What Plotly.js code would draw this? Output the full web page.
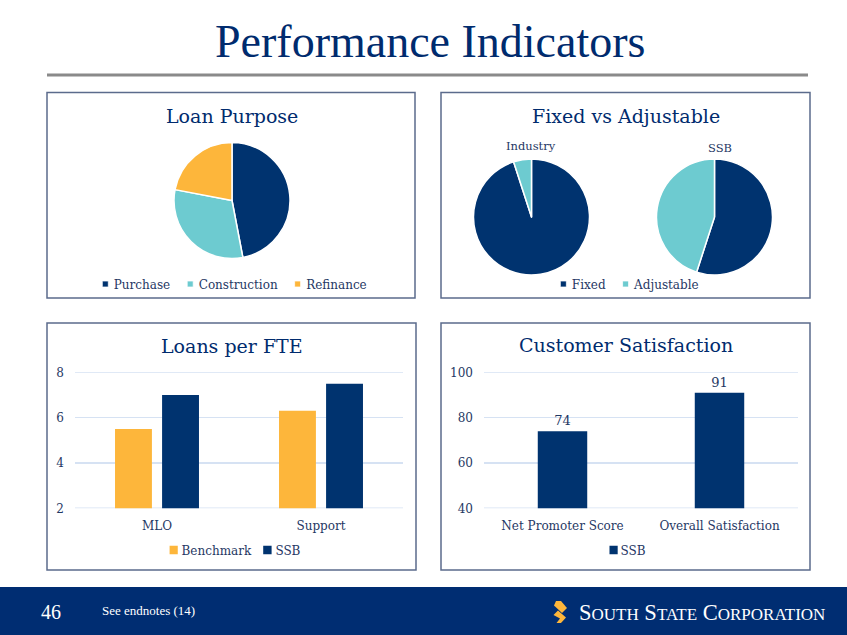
<!DOCTYPE html>
<html>
<head>
<meta charset="utf-8">
<script src="https://cdn.plot.ly/plotly-3.0.1.min.js"></script>
<style>html,body{margin:0;padding:0;background:#fff;}#chart{width:847px;height:635px;}</style>
</head>
<body>
<div id="chart"></div>
<script>
// ---- data ----
const loanLabels = ['Purchase', 'Construction', 'Refinance'];
const loanValues = [47, 31, 22];

const rateLabels = ['Fixed', 'Adjustable'];
const rateGroups = ['Industry', 'SSB'];
const industryValues = [95, 5];
const ssbRateValues = [55, 45];

const fteCategories = ['MLO', 'Support'];
const benchmarkValues = [5.5, 6.3];
const ssbFteValues = [7.0, 7.5];

const satCategories = ['Net Promoter Score', 'Overall Satisfaction'];
const satValues = [74, 91];

// ---- style ----
const W = 847, H = 635;
const NAVY = '#00336F', TEAL = '#6DCBD0', GOLD = '#FDB63B';
const TXT = '#1F3864', TITLE = '#002B6E', GRID = '#D6E2F3';
const SERIF = 'DejaVu Serif, Georgia, serif';
const px = x => x / W;
const py = y => 1 - y / H;
const dom = (cx, cy, r) => ({x: [px(cx - r), px(cx + r)], y: [py(cy + r), py(cy - r)]});

const pieCommon = {
  type: 'pie', sort: false, direction: 'clockwise', rotation: 0,
  textinfo: 'none', hoverinfo: 'label+percent'
};

const traces = [
  Object.assign({}, pieCommon, {
    labels: loanLabels, values: loanValues, domain: dom(232, 200.5, 58),
    marker: {colors: [NAVY, TEAL, GOLD], line: {color: '#fff', width: 1.5}},
    legend: 'legend'
  }),
  Object.assign({}, pieCommon, {
    name: rateGroups[0], labels: rateLabels, values: industryValues, domain: dom(531.5, 217, 58),
    marker: {colors: [NAVY, TEAL], line: {color: '#fff', width: 1.5}},
    legend: 'legend2'
  }),
  Object.assign({}, pieCommon, {
    name: rateGroups[1], labels: rateLabels, values: ssbRateValues, domain: dom(714.5, 217, 58),
    marker: {colors: [NAVY, TEAL], line: {color: '#fff', width: 1.5}},
    legend: 'legend2'
  }),
  {
    type: 'bar', name: 'Benchmark', x: fteCategories, y: benchmarkValues,
    xaxis: 'x', yaxis: 'y', marker: {color: GOLD}, width: 0.225, offset: -0.256,
    legend: 'legend3'
  },
  {
    type: 'bar', name: 'SSB', x: fteCategories, y: ssbFteValues,
    xaxis: 'x', yaxis: 'y', marker: {color: NAVY}, width: 0.225, offset: 0.031,
    legend: 'legend3'
  },
  {
    type: 'bar', name: 'SSB', x: satCategories, y: satValues,
    xaxis: 'x2', yaxis: 'y2', marker: {color: NAVY}, width: 0.315, offset: -0.1575,
    text: satValues.map(String), textposition: 'outside', cliponaxis: false,
    textfont: {family: SERIF, size: 13, color: TXT},
    legend: 'legend4'
  }
];

const legendBase = {
  orientation: 'h', xanchor: 'center', yanchor: 'middle',
  font: {family: SERIF, size: 12, color: TXT}, bgcolor: 'rgba(0,0,0,0)'
};

const axisY = {
  showgrid: true, gridcolor: GRID, gridwidth: 1.5, zeroline: false, showline: false,
  ticks: '', tickfont: {family: SERIF, size: 12, color: TXT}, fixedrange: true
};
const axisX = {
  showgrid: false, zeroline: false, showline: false, ticks: '',
  tickfont: {family: SERIF, size: 12, color: TXT}, fixedrange: true
};

const boxLine = {color: '#5B6B8C', width: 1.5};
const shapes = [
  {type: 'rect', xref: 'paper', yref: 'paper', x0: 0, x1: 1, y0: py(635), y1: py(587), fillcolor: '#002D72', line: {width: 0}, layer: 'below'},
  {type: 'line', xref: 'paper', yref: 'paper', x0: px(47), x1: px(808), y0: py(75), y1: py(75), line: {color: '#8A8A8A', width: 3}},
  {type: 'rect', xref: 'paper', yref: 'paper', x0: px(47), x1: px(415), y0: py(298), y1: py(92.5), line: boxLine},
  {type: 'rect', xref: 'paper', yref: 'paper', x0: px(441), x1: px(810), y0: py(298), y1: py(92.5), line: boxLine},
  {type: 'rect', xref: 'paper', yref: 'paper', x0: px(47), x1: px(416), y0: py(570), y1: py(323), line: boxLine},
  {type: 'rect', xref: 'paper', yref: 'paper', x0: px(441), x1: px(810), y0: py(570), y1: py(323), line: boxLine}
];
// edge gridlines (Plotly omits grid lines that sit on the plot edge)
[['x', 'y', 2], ['x', 'y', 8], ['x2', 'y2', 40], ['x2', 'y2', 100]].forEach(([xa, ya, v]) => {
  shapes.push({type: 'line', xref: xa + ' domain', yref: ya, x0: 0, x1: 1, y0: v, y1: v,
    line: {color: GRID, width: 1.5}, layer: 'below'});
});
// gold logo mark
function pathPx(pts) {
  return 'M' + pts.map(p => px(p[0]).toFixed(5) + ',' + py(p[1]).toFixed(5)).join(' L') + ' Z';
}
shapes.push({type: 'path', xref: 'paper', yref: 'paper', fillcolor: GOLD, line: {width: 0},
  path: pathPx([[556, 601], [561, 601], [567, 608], [562, 613], [554, 605.5]])});
shapes.push({type: 'path', xref: 'paper', yref: 'paper', fillcolor: GOLD, line: {width: 0},
  path: pathPx([[553.5, 615], [558, 610.5], [566, 617.5], [561, 623], [556.5, 623], [560, 618.5]])});

const ann = (text, x, y, size, color, family, xanchor) => ({
  text, x: px(x), y: py(y), xref: 'paper', yref: 'paper', showarrow: false,
  xanchor: xanchor || 'center', yanchor: 'middle',
  font: {family: family || SERIF, size, color}
});

const annotations = [
  ann('Performance Indicators', 430, 41, 46, TITLE, 'Liberation Serif, Times New Roman, serif'),
  ann('Loan Purpose', 232, 116, 19, TITLE),
  ann('Fixed vs Adjustable', 626, 116, 19, TITLE),
  ann('Loans per FTE', 232, 346, 19, TITLE),
  ann('Customer Satisfaction', 626, 345, 19, TITLE),
  ann(rateGroups[0], 531, 146, 11.5, TXT),
  ann(rateGroups[1], 720, 148, 11.5, TXT),
  ann('46', 51, 612, 20, '#FFFFFF', 'Liberation Serif, serif'),
  ann('See endnotes (14)', 100, 610, 13, '#FFFFFF', 'Liberation Serif, serif', 'left'),
  ann('S<span style="font-size:17px">OUTH</span> S<span style="font-size:17px">TATE</span> C<span style="font-size:17px">ORPORATION</span>',
      577, 612, 22.5, '#FFFFFF', 'Liberation Serif, serif', 'left')
];

const layout = {
  width: W, height: H, margin: {l: 0, r: 0, t: 0, b: 0},
  paper_bgcolor: '#FFFFFF', plot_bgcolor: '#FFFFFF',
  showlegend: true, hovermode: false,
  legend: Object.assign({}, legendBase, {x: px(235), y: py(284)}),
  legend2: Object.assign({}, legendBase, {x: px(629), y: py(284)}),
  legend3: Object.assign({}, legendBase, {x: px(235), y: py(550)}),
  legend4: Object.assign({}, legendBase, {x: px(627), y: py(550)}),
  xaxis: Object.assign({}, axisX, {domain: [px(75), px(403)], anchor: 'y', ticklabelstandoff: 9}),
  yaxis: Object.assign({}, axisY, {domain: [py(508.3), py(372.3)], anchor: 'x', range: [2, 8], dtick: 2, ticklabelstandoff: 10}),
  xaxis2: Object.assign({}, axisX, {domain: [px(484), px(798)], anchor: 'y2', ticklabelstandoff: 9}),
  yaxis2: Object.assign({}, axisY, {domain: [py(508.3), py(372.3)], anchor: 'x2', range: [40, 100], dtick: 20, ticklabelstandoff: 10}),
  shapes, annotations
};

// Compact legend entries to mimic the small-marker office-style legends
function compactLegend(cls, centerX, scale, symToText, gap) {
  const g = document.querySelector('.infolayer > g.' + cls);
  if (!g) return;
  const svg = g.ownerSVGElement;
  const textSel = 'text.' + cls + 'text';
  const items = Array.from(g.querySelectorAll('g.traces')).filter(tr =>
    tr.querySelector('g.layers') && tr.querySelector(textSel));
  if (!items.length) return;
  let cur = items[0].transform.baseVal.consolidate().matrix.e;
  items.forEach(tr => {
    const cons = tr.transform.baseVal.consolidate();
    const trF = cons ? cons.matrix.f : 0;
    const pts = tr.querySelector('g.layers');
    const txt = tr.querySelector(textSel);
    const bb = pts.getBBox();
    const rel = tr.getCTM().inverse().multiply(pts.getCTM());
    let c = svg.createSVGPoint(); c.x = bb.x + bb.width / 2; c.y = bb.y + bb.height / 2;
    c = c.matrixTransform(rel);
    const wid = (bb.width > 0 && bb.width < 40) ? bb.width : 12;
    const half = wid * scale / 2;
    const m = `matrix(${rel.a},${rel.b},${rel.c},${rel.d},${rel.e},${rel.f})`;
    pts.setAttribute('transform', `translate(${half},${c.y}) scale(${scale}) translate(${-c.x},${-c.y}) ${m}`);
    const tx = half + symToText;
    txt.setAttribute('x', tx);
    txt.querySelectorAll('tspan').forEach(t => { if (t.hasAttribute('x')) t.setAttribute('x', tx); });
    const len = txt.getComputedTextLength();
    tr.setAttribute('transform', `translate(${cur},${trF})`);
    cur += tx + len + gap;
  });
  let minL = Infinity, maxR = -Infinity;
  items.forEach(tr => {
    const a = tr.querySelector('g.layers').getBoundingClientRect();
    const b = tr.querySelector(textSel).getBoundingClientRect();
    minL = Math.min(minL, a.left); maxR = Math.max(maxR, b.right);
  });
  const dx = centerX - (minL + maxR) / 2;
  const gm = g.transform.baseVal.consolidate();
  const e = gm ? gm.matrix.e : 0, f = gm ? gm.matrix.f : 0;
  g.setAttribute('transform', `translate(${e + dx},${f})`);
}

Plotly.newPlot('chart', traces, layout, {displayModeBar: false, staticPlot: true}).then(() => {
  [['legend', 234.5, 0.5, 8.5, 17], ['legend2', 629.5, 0.5, 8.5, 17],
   ['legend3', 235, 0.7, 8, 12], ['legend4', 627.5, 0.7, 7, 12]].forEach(a => {
    try { compactLegend.apply(null, a); } catch (e) { console.error(e); }
  });
});
</script>
</body>
</html>
